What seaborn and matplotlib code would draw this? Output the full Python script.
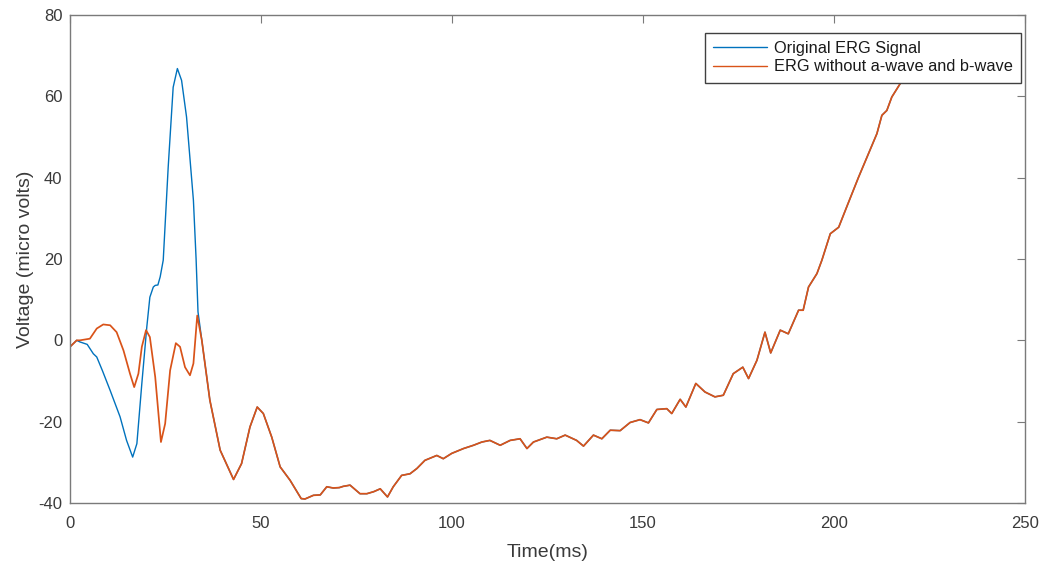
import pandas as pd
import seaborn as sns
import matplotlib.pyplot as plt

# values (time in ms, voltage in micro volts)
orig_time = [0, 1.75, 2.6, 4.5, 6.1, 7.0, 8.5, 10.5, 13.1, 14.8, 16.4, 17.5,
             18.8, 20.1, 20.9, 21.8, 22.3, 23.0, 23.6, 24.4, 25.7, 27.0,
             28.1, 29.2, 30.5, 32.3, 33.0, 33.5]
orig_volt = [-1.6, 0, -0.4, -1.0, -3.3, -4.1, -7.5, -12.3, -18.8, -24.6,
             -28.7, -25.4, -10.6, 3.3, 10.6, 13.1, 13.5, 13.6, 15.6, 19.7,
             42.6, 62.2, 66.8, 63.9, 54.9, 34.4, 20.0, 7.0]

filt_time = [0, 1.75, 2.6, 5.2, 7.0, 8.7, 10.5, 12.2, 14.0, 15.7, 16.8, 17.9,
             18.8, 19.9, 20.9, 22.3, 23.8, 24.9, 26.2, 27.7, 28.8, 30.1,
             31.4, 32.3, 33.3, 34.5, 36.6, 39.3, 42.8, 44.9, 47.1, 49.0,
             50.6, 52.8, 55.0, 57.6, 60.5, 61.5, 63.7, 65.5, 67.2, 68.9,
             70.5, 71.5, 73.3, 75.9, 77.7, 79.5, 81.2, 83.1, 84.6, 86.8,
             89.0, 90.8, 92.9, 96.0, 97.7, 99.9, 103.0, 105.6, 107.8, 109.9,
             112.6, 115.2, 117.8, 119.6, 121.3, 124.8, 127.4, 129.6, 132.6,
             134.4, 137.0, 139.2, 141.4, 144.0, 146.6, 149.2, 151.4, 153.6,
             156.2, 157.5, 159.7, 161.2, 163.8, 166.2, 168.8, 171.0, 173.6,
             176.1, 177.6, 179.8, 181.9, 183.4, 185.9, 188.0, 190.7, 191.9,
             193.3, 195.5, 196.8, 199.0, 201.2, 203.3, 206.4, 208.6, 211.2,
             212.5, 213.8, 215.1, 217.3, 219.5, 222.0]
filt_volt = [-1.6, 0, 0, 0.4, 2.9, 3.9, 3.7, 2.0, -2.5, -8.2, -11.5, -8.2,
             -1.6, 2.5, 0.8, -9.0, -25.0, -20.5, -7.4, -0.7, -1.6, -6.6,
             -8.6, -5.7, 6.1, 0, -14.7, -27.0, -34.2, -30.3, -21.3, -16.4,
             -18.0, -23.8, -31.1, -34.4, -38.9, -39.0, -38.1, -38.0, -36.0,
             -36.3, -36.2, -35.9, -35.6, -37.7, -37.7, -37.2, -36.5, -38.5,
             -36.0, -33.2, -32.8, -31.5, -29.5, -28.3, -29.1, -27.8, -26.6,
             -25.8, -25.0, -24.6, -25.8, -24.6, -24.2, -26.6, -25.0, -23.8,
             -24.2, -23.3, -24.6, -26.0, -23.3, -24.2, -22.1, -22.2, -20.2,
             -19.5, -20.3, -17.0, -16.8, -18.0, -14.5, -16.4, -10.6, -12.7,
             -13.9, -13.5, -8.2, -6.6, -9.4, -4.9, 2.0, -3.1, 2.5, 1.6, 7.4,
             7.4, 13.1, 16.4, 19.7, 26.2, 27.8, 32.8, 40.1, 45.0, 50.8, 55.3,
             56.5, 59.8, 63.1, 66.5, 70.0]

labels = ["Original ERG Signal", "ERG without a-wave and b-wave"]
colors = ["#0072BD", "#D95319"]
x_ticks = [0, 50, 100, 150, 200, 250]
y_ticks = [-40, -20, 0, 20, 40, 60, 80]

sns.set_theme(style="white")
plt.rcParams["font.family"] = ["Liberation Sans", "DejaVu Sans"]
plt.rcParams["axes.unicode_minus"] = False

# after the b-wave the original signal runs under the filtered one
tail = [(t, v) for t, v in zip(filt_time, filt_volt) if t > orig_time[-1]]
orig = pd.DataFrame({"time": orig_time + [t for t, _ in tail],
                     "volt": orig_volt + [v for _, v in tail]})
orig["signal"] = labels[0]
filt = pd.DataFrame({"time": filt_time, "volt": filt_volt})
filt["signal"] = labels[1]
df = pd.concat([orig, filt], ignore_index=True)

axis_grey = "#7a7a7a"
text_grey = "#3a3a3a"

fig = plt.figure(figsize=(10.45, 5.71), dpi=100)
ax = fig.add_axes([0.067, 0.119, 0.914, 0.855])
sns.lineplot(data=df, x="time", y="volt", hue="signal", hue_order=labels,
             palette=colors, estimator=None, sort=False, linewidth=1.0, ax=ax)
# slightly wider orange line so the hidden blue tail does not tint it
ax.lines[1].set_linewidth(1.25)

ax.set_xlim(0, 250)
ax.set_ylim(-40, 80)
ax.set_xticks(x_ticks)
ax.set_yticks(y_ticks)
ax.tick_params(direction="in", length=5.5, width=0.8, top=True, right=True,
               colors=axis_grey, labelcolor=text_grey, labelsize=12)
ax.tick_params(axis="x", pad=9.5)
ax.tick_params(axis="y", pad=5.5)
for sp in ax.spines.values():
    sp.set_visible(True)
    sp.set_color(axis_grey)
    sp.set_linewidth(1.0)

ax.set_xlabel("Time(ms)", fontsize=14, color=text_grey, labelpad=9)
ax.set_ylabel("Voltage (micro volts)", fontsize=14, color=text_grey, labelpad=3)

handles, names = ax.get_legend_handles_labels()
leg = ax.legend(handles, names, loc="upper right", bbox_to_anchor=(0.9955, 0.963),
                borderaxespad=0, fontsize=11.8, handlelength=3.3, handletextpad=0.4,
                borderpad=0.5, labelspacing=0.2, fancybox=False, framealpha=1,
                edgecolor="#404040")
leg.get_frame().set_linewidth(1.0)
for h in leg.get_lines():
    h.set_linewidth(1.0)
for txt in leg.get_texts():
    txt.set_color("#1a1a1a")

fig.savefig("out.png", dpi=100)
